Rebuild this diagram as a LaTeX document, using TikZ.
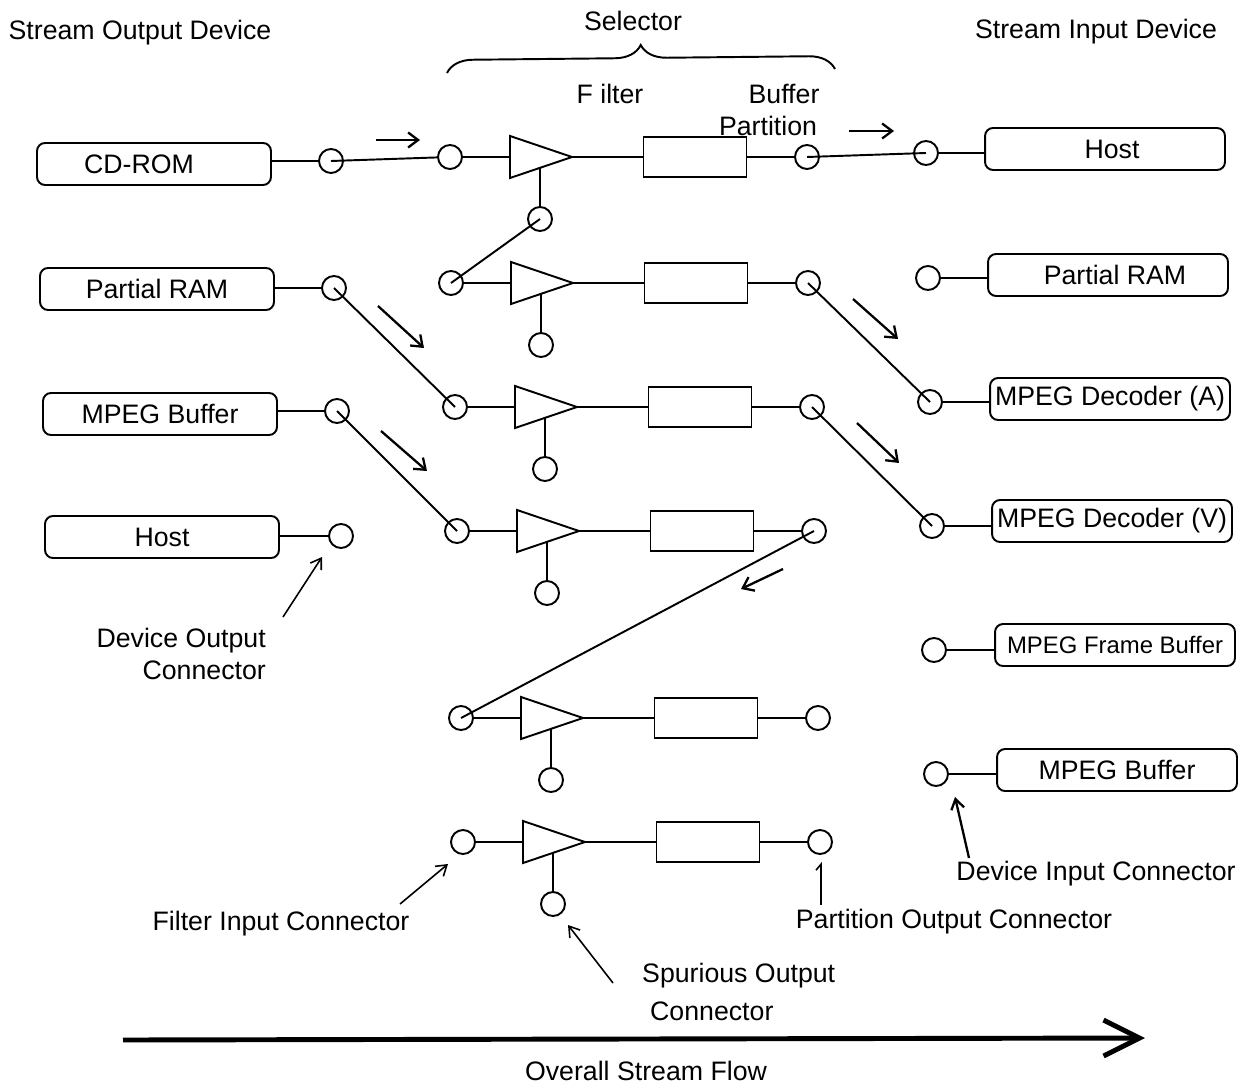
\documentclass[tikz,border=0pt]{standalone}
\usepackage{fontspec}
\setmainfont{Liberation Sans}
\usetikzlibrary{arrows.meta,decorations.pathreplacing,calc}

% One selector lane: filter input, filter (triangle), spurious output,
% buffer partition and partition output.  #1 = name prefix, #2,#3 = input connector
\newcommand\filterrow[3]{%
  \node[conn] (#1in) at (#2,#3) {};
  \coordinate (#1base) at ({#2+60},#3);
  \coordinate (#1tip) at ({#2+122},#3);
  \coordinate (#1j) at ({#2+90},{#3+11});
  \draw[wire,line join=miter] ({#2+60},{#3-21}) -- (#1tip) -- ({#2+60},{#3+21}) -- cycle;
  \node[partbox] (#1buf) at ({#2+245},#3) {};
  \node[conn] (#1out) at ({#2+357},#3) {};
  \node[conn] (#1sp) at ({#2+90},{#3+62}) {};
  \draw[wire] (#1in) -- (#1base);
  \draw[wire] (#1tip) -- (#1buf);
  \draw[wire] (#1buf) -- (#1out);
  \draw[wire] (#1j) -- (#1sp);
}

\begin{document}
\begin{tikzpicture}[x=0.02cm,y=-0.02cm,
  every node/.style={font=\fontsize{15.2}{18}\selectfont},
  wire/.style={line width=1.1pt},
  conn/.style={circle,draw,line width=1.1pt,minimum size=0.48cm,inner sep=0pt},
  device/.style={draw,line width=1.1pt,rounded corners=0.16cm,minimum height=0.84cm,inner sep=0pt},
  srcdev/.style={device,minimum width=4.68cm},
  sinkdev/.style={device,minimum width=4.8cm},
  partbox/.style={draw,line width=1.1pt,minimum width=2.06cm,minimum height=0.8cm,inner sep=0pt},
  flow/.style={line width=1.3pt,-{Straight Barb[length=0.2cm,width=0.3cm]}},
  pointer/.style={line width=0.9pt,-{Straight Barb[length=0.2cm,width=0.26cm]}},
  ]
\useasboundingbox (0,0) rectangle (1243,1087);

% headings
\node (tSOD) at (140,33) {Stream Output Device};
\node (tSel) at (633,21) {Selector};
\node (tSID) at (1096,32) {Stream Input Device};
\draw[wire,decorate,decoration={brace,amplitude=0.52cm}] (447,73) -- (835,69);
\node (tFil) at (610,94) {F ilter};
\node (tBuf) at (784,94) {Buffer};
\node (tPar) at (768,126) {Partition};

% stream output devices
\node[srcdev] (sCD) at (154,164) {\hspace*{-0.6cm}CD-ROM};
\node[srcdev] (sPR) at (157,289) {Partial RAM};
\node[srcdev] (sMB) at (160,414) {MPEG Buffer};
\node[srcdev] (sHo) at (162,537) {Host};
\node[conn] (oCD) at (331,161) {};
\node[conn] (oPR) at (334,288) {};
\node[conn] (oMB) at (337,411) {};
\node[conn] (oHo) at (341,536) {};
\foreach \d in {CD,PR,MB,Ho}
  \draw[wire] (o\d.west -| s\d.east) -- (o\d);

% stream input devices
\node[sinkdev] (dHo) at (1105,149) {\hspace*{0.28cm}Host};
\node[sinkdev] (dPR) at (1108,275) {\hspace*{0.28cm}Partial RAM};
\node[sinkdev] (dDA) at (1110,399) {MPEG Decoder (A)};
\node[sinkdev] (dDV) at (1112,521) {MPEG Decoder (V)};
\node[sinkdev] (dFB) at (1115,645) {\fontsize{13.6}{16}\selectfont MPEG Frame Buffer};
\node[sinkdev] (dMB) at (1117,770) {MPEG Buffer};
\node[conn] (iHo) at (926,153) {};
\node[conn] (iPR) at (928,278) {};
\node[conn] (iDA) at (930,402) {};
\node[conn] (iDV) at (932,526) {};
\node[conn] (iFB) at (934,650) {};
\node[conn] (iMB) at (936,774) {};
\foreach \d in {Ho,PR,DA,DV,FB,MB}
  \draw[wire] (i\d) -- (i\d.east -| d\d.west);

% selector lanes
\filterrow{ra}{450}{157}
\filterrow{rb}{451}{283}
\filterrow{rc}{455}{407}
\filterrow{rd}{457}{531}
\filterrow{re}{461}{718}
\filterrow{rf}{463}{842}

% stream connections
\draw[wire] (oCD.center) -- (rain);
\draw[wire] (raout.center) -- (iHo.center);
\draw[wire] (rbin.center) -- (rasp.center);
\draw[wire] (oPR.center) -- (rcin.center);
\draw[wire] (oMB.center) -- (rdin.center);
\draw[wire] (rbout.center) -- (iDA.center);
\draw[wire] (rcout.center) -- (iDV.center);
\draw[wire] (rdout.center) -- (rein.center);

% direction of the streams
\draw[flow] (376,140) -- (420,140);
\draw[flow] (849,131) -- (894,131);
\draw[flow] (378,306) -- (424,348);
\draw[flow] (381,431) -- (427,471);
\draw[flow] (853,299) -- (898,339);
\draw[flow] (857,423) -- (899,463);
\draw[flow] (783,569) -- (741,589);

% callouts
\node[align=right,anchor=east,font=\fontsize{15.2}{18.1}\selectfont] (tDOC) at (272,654) {Device Output\\Connector};
\draw[pointer] (283,617) -- (322,557);
\node (tFIC) at (281,924) {Filter Input Connector};
\draw[pointer] (400,904) -- (448,864);
\node[align=left,anchor=west,font=\fontsize{15.2}{21.5}\selectfont] (tSOC) at (636,992) {Spurious Output\\\hspace*{0.16cm}Connector};
\draw[pointer] (613,983) -- (568,925);
\node (tPOC) at (954,922) {Partition Output Connector};
\draw[line width=0.9pt,-{Straight Barb[harpoon,length=0.12cm,width=0.2cm]}] (821,905) -- (821,862);
\node (tDIC) at (1096,874) {Device Input Connector};
\draw[pointer,line width=1.3pt] (969,858) -- (955,797);

% overall direction
\draw[line width=2.8pt,-{Straight Barb[length=0.72cm,width=0.72cm]}] (123,1040) -- (1145,1038);
\node (tOSF) at (646,1071) {Overall Stream Flow};
\end{tikzpicture}
\end{document}
